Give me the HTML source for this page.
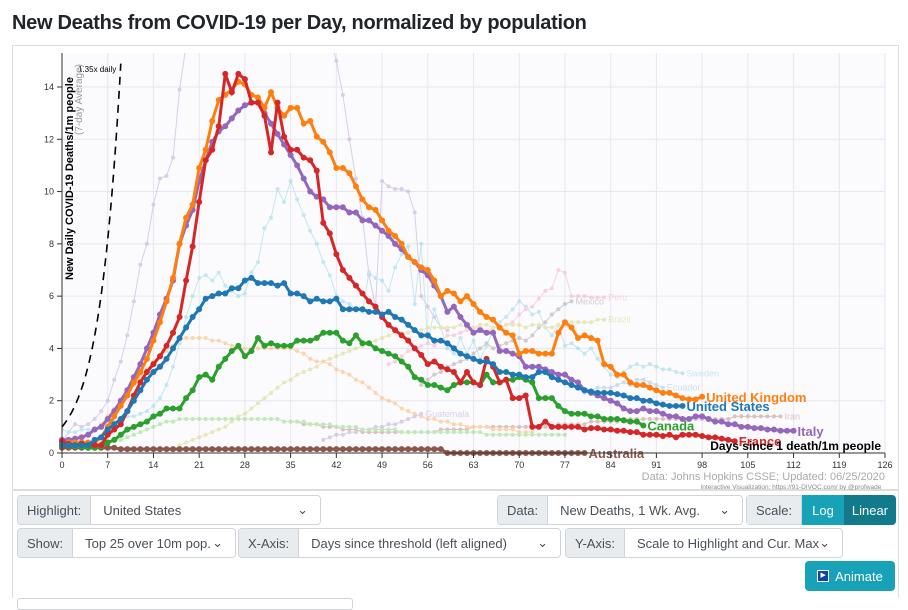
<!DOCTYPE html>
<html><head><meta charset="utf-8">
<style>
body{margin:0;width:908px;height:603px;overflow:hidden;background:#fff;font-family:"Liberation Sans",sans-serif;position:relative}
.t{position:absolute;left:12px;top:12px;font-size:20px;font-weight:bold;color:#212529;letter-spacing:-0.3px}
.grp{position:absolute;height:30px;display:flex;border:1px solid #ced4da;border-radius:4px;overflow:hidden;font-size:13px;color:#495057;box-sizing:border-box}
.grp .lb{background:#e9ecef;padding:0 9px;display:flex;align-items:center;border-right:1px solid #ced4da}
.grp .sel{flex:1;display:flex;align-items:center;justify-content:space-between;padding:0 12px;background:#fff}
.btn{display:flex;align-items:center;justify-content:center;color:#fff;padding:0 8px}
</style></head><body>
<div class="t">New Deaths from COVID-19 per Day, normalized by population</div>
<svg id="chart" width="908" height="603" style="position:absolute;left:0;top:0">
<rect x="12.5" y="45.5" width="886" height="444" fill="#fff" stroke="#ddd"/>
<rect x="62" y="53" width="823" height="400" fill="#fbfbfe"/>
<g id="grid"></g><g id="bg" opacity="0.6"></g><g id="main"></g><g id="axes"></g>
</svg>
<div style="position:absolute;left:12px;top:490px;width:887px;height:108px;border:1px solid #ddd;border-bottom:none;box-sizing:border-box"></div>
<div class="grp" style="left:17px;top:495px;width:304px"><span class="lb">Highlight:</span><span class="sel">United States<span>⌄</span></span></div>
<div class="grp" style="left:497px;top:495px;width:246px"><span class="lb">Data:</span><span class="sel">New Deaths, 1 Wk. Avg.<span>⌄</span></span></div>
<div class="grp" style="left:746px;top:495px;width:150px;border:none"><span class="lb" style="border:1px solid #ced4da">Scale:</span><span class="btn" style="background:#17a2b8;width:26px">Log</span><span class="btn" style="background:#117a8b;flex:1">Linear</span></div>
<div class="grp" style="left:17px;top:528px;width:219px"><span class="lb">Show:</span><span class="sel">Top 25 over 10m pop.<span>⌄</span></span></div>
<div class="grp" style="left:238px;top:528px;width:323px"><span class="lb">X-Axis:</span><span class="sel">Days since threshold (left aligned)<span>⌄</span></span></div>
<div class="grp" style="left:565px;top:528px;width:278px"><span class="lb">Y-Axis:</span><span class="sel">Scale to Highlight and Cur. Max<span>⌄</span></span></div>
<div class="btn" style="position:absolute;left:805px;top:561px;width:90px;height:30px;background:#17a2b8;border-radius:4px;font-size:13px;box-sizing:border-box"><span style="display:inline-block;width:10px;height:10px;background:#0d47a1;border:1px solid #fff;margin-right:6px;font-size:7px;line-height:10px;text-align:center">▶</span>Animate</div>
<div style="position:absolute;left:17px;top:598px;width:334px;height:10px;border:1px solid #ced4da;border-radius:3px"></div>
<script>
const ukValues=[0.4,0.4,0.4,0.4,0.4,0.4,0.6,1.0,1.4,1.8,2.2,2.7,3.1,3.6,4.3,5.0,5.8,6.7,8.0,9.0,9.5,10.9,11.6,12.7,13.5,13.7,13.9,14.2,14.1,13.7,13.6,13.2,13.8,13.2,12.9,13.2,13.2,12.6,12.7,12.1,11.9,11.5,10.9,10.9,10.7,10.2,9.7,9.4,9.3,8.9,8.5,8.3,8.0,7.5,7.3,7.1,7.0,6.6,6.0,6.2,6.1,5.8,6.0,5.7,5.4,5.2,5.1,4.8,4.6,4.5,3.8,3.9,3.9,3.8,3.8,3.8,4.6,5.0,4.8,4.4,4.5,4.4,4.3,3.4,3.3,3.0,3.0,2.7,2.6,2.6,2.5,2.4,2.3,2.3,2.2,2.1,2.05,2.05,2.15];
const itValues=[0.5,0.5,0.55,0.6,0.7,0.9,1.0,1.3,1.6,2.0,2.4,2.9,3.4,4.0,4.6,5.3,5.9,6.6,8.0,8.7,9.3,10.4,11.2,11.9,12.3,12.5,12.8,13.1,13.3,13.4,13.4,13.0,12.6,12.2,11.8,11.4,11.0,10.5,10.0,9.8,9.7,9.4,9.4,9.4,9.2,9.2,8.9,8.9,8.7,8.5,8.3,8.0,7.8,7.5,7.3,7.0,6.8,6.4,6.0,5.4,5.6,5.2,4.9,4.6,4.7,4.6,4.6,3.9,3.9,3.8,3.7,3.3,3.3,3.3,3.2,3.1,3.0,3.0,2.8,2.7,2.4,2.3,2.2,2.1,2.0,1.9,1.7,1.6,1.6,1.7,1.6,1.6,1.5,1.4,1.4,1.3,1.3,1.4,1.4,1.3,1.2,1.2,1.1,1.1,1.0,1.0,0.95,0.95,0.9,0.9,0.85,0.85,0.85];
const frValues=[0.45,0.35,0.3,0.35,0.3,0.3,0.3,0.7,0.9,1.1,1.6,2.2,2.7,3.1,3.4,3.7,4.1,4.6,5.2,6.6,7.9,9.6,11.2,11.6,12.5,14.5,13.8,14.5,14.3,13.4,13.4,12.9,11.5,13.4,12.1,11.6,11.6,11.3,11.2,10.8,8.8,8.4,7.6,7.0,6.7,6.4,6.1,5.8,5.6,5.2,4.9,4.7,4.5,4.3,4.0,3.75,3.4,3.5,3.3,3.2,3.1,2.7,3.1,2.7,2.6,3.6,3.3,2.7,2.8,2.1,2.1,2.2,1.0,1.0,1.2,1.0,1.0,1.0,1.0,1.0,0.9,0.95,0.95,0.9,0.9,0.85,0.85,0.8,0.8,0.7,0.7,0.7,0.65,0.7,0.6,0.7,0.7,0.7,0.65,0.6,0.6,0.55,0.5,0.45];
const usValues=[0.3,0.3,0.3,0.3,0.3,0.5,0.6,0.9,1.1,1.3,1.6,2.0,2.4,2.8,3.1,3.3,3.6,4.0,4.4,4.8,5.2,5.5,5.9,6.0,6.1,6.1,6.3,6.3,6.6,6.7,6.5,6.5,6.5,6.4,6.5,6.1,6.1,6.0,5.8,5.9,5.8,5.8,5.9,5.5,5.5,5.5,5.5,5.4,5.4,5.3,5.4,5.2,5.1,4.9,4.7,4.5,4.5,4.3,4.3,4.2,4.0,3.8,3.7,3.6,3.5,3.5,3.4,3.1,3.1,3.0,3.0,2.9,2.9,3.1,3.1,2.9,2.8,2.7,2.6,2.5,2.4,2.35,2.3,2.3,2.3,2.25,2.2,2.1,2.1,2.0,2.0,1.9,1.85,1.8,1.8,1.8];
const caValues=[0.3,0.3,0.25,0.25,0.2,0.2,0.25,0.4,0.5,0.7,0.9,1.0,1.1,1.2,1.4,1.5,1.7,1.7,1.7,2.1,2.4,2.9,3.0,2.8,3.3,3.6,3.9,4.1,3.7,3.9,4.4,4.1,4.2,4.1,4.1,4.1,4.3,4.3,4.3,4.4,4.6,4.6,4.6,4.3,4.2,4.5,4.2,4.2,4.0,3.9,3.8,3.7,3.5,3.3,2.9,2.8,2.6,2.6,2.5,2.4,2.6,2.7,2.7,2.7,2.6,3.0,2.7,2.7,2.8,2.8,2.9,2.8,2.7,2.1,2.1,2.1,1.8,1.6,1.5,1.5,1.5,1.4,1.4,1.3,1.3,1.3,1.25,1.2,1.2,1.05];
const auValues=[0.2,0.2,0.2,0.2,0.2,0.2,0.2,0.2,0.2,0.15,0.15,0.15,0.15,0.15,0.15,0.15,0.15,0.15,0.15,0.15,0.15,0.15,0.15,0.15,0.15,0.15,0.15,0.15,0.15,0.15,0.15,0.15,0.15,0.15,0.15,0.15,0.15,0.15,0.15,0.15,0.15,0.15,0.15,0.15,0.15,0.15,0.15,0.15,0.15,0.15,0.15,0.15,0.15,0.15,0.15,0.15,0.15,0.15,0.15,0,0,0,0,0,0,0,0,0,0,0,0,0,0,0,0,0,0,0,0,0,0];
const mainNames=["United Kingdom","Italy","France","United States","Canada","Australia"];
const bgNames=["Belgium","Sweden","Peru","Mexico","Brazil","Iran","Ecuador","Spain","Guatemala","Germany"];
const bgStarts=[0,0,50,55,18,35,80,0,40,0];
const bgValues=[
[0.4,0.8,1.1,1.0,1.1,1.3,1.6,2.0,2.8,3.5,4.5,5.8,7.2,8.0,9.5,10.5,10.6,11.3,13.9,15.6,17,18,18,18,18,18,18,18,18,18,18,18,18,18,18,18,18,18,18,18,18,16,15,13.7,12,10.5,9,6.8,5.6,10.4,10.2,10.1,10.1,10.0,9.2,6,5.6,5.2,4.8,4.7],
[0.9,0.8,0.8,0.9,0.9,0.9,1.0,1.1,1.2,1.3,1.4,1.4,1.5,1.6,1.8,2.1,2.6,3.3,4.2,5.2,6.0,6.7,6.8,6.6,6.9,6.4,6.2,6.0,6.1,6.9,7.3,8.6,9.0,10.1,9.6,10.4,9.7,9.1,8.5,8.0,7.3,6.8,6.0,5.8,5.7,5.5,5.4,6.9,6.7,6.6,6.2,7.1,7.6,7.9,5.7,8.0,4.2,5.5,4.8,4.0,3.8,4.4,3.8,4.3,3.6,4.1,4.7,5.0,5.2,5.5,5.8,5.6,5.3,5.4,4.8,4.5,4.9,4.1,4.2,4.0,3.8,4.0,3.6,3.3,3.0,2.9,3.1,3.3,3.4,3.3,3.4,3.3,3.2,3.2,3.1,3.05],
[3.4,3.5,3.7,3.9,4.0,4.1,4.2,4.1,4.3,4.5,4.5,4.6,4.7,4.7,4.9,4.6,4.8,4.8,4.9,5.0,5.3,5.5,5.6,5.9,6.2,6.3,7.0,6.9,6.0,6.0,6.0,5.95,5.95,5.95],
[2.6,2.8,3.0,3.1,3.3,3.4,3.5,3.6,3.8,4.0,4.2,4.0,4.1,4.2,4.3,4.4,4.3,4.5,4.8,5.0,5.3,5.5,5.7,5.8],
[0.3,0.4,0.5,0.6,0.7,0.8,0.9,1.0,1.2,1.4,1.5,1.7,1.9,2.1,2.3,2.5,2.7,2.8,3.0,3.1,3.2,3.3,3.5,3.6,3.7,3.8,3.9,4.0,4.1,4.2,4.3,4.4,4.5,4.6,4.6,4.6,4.7,4.7,4.8,4.8,4.8,4.8,4.8,4.9,4.8,4.8,4.9,4.9,4.8,4.8,4.9,4.9,4.9,4.8,4.9,4.9,4.8,4.8,4.9,4.9,5.0,5.0,5.0,5.0,5.1,5.1],
[1.2,1.2,1.1,1.1,1.1,1.0,1.0,1.0,0.9,0.9,0.9,0.8,0.8,0.8,0.8,0.8,0.8,0.8,0.8,0.8,0.8,0.8,0.8,0.9,0.9,0.9,0.9,0.9,1.0,1.0,1.0,1.0,1.0,1.0,1.0,1.0,1.0,1.0,1.0,1.0,1.0,1.1,1.1,1.1,1.1,1.1,1.2,1.2,1.2,1.2,1.2,1.3,1.3,1.3,1.3,1.3,1.3,1.3,1.3,1.3,1.3,1.3,1.3,1.3,1.3,1.3,1.3,1.3,1.4,1.4,1.4,1.4,1.4,1.4,1.4,1.4],
[2.3,2.4,2.5,2.5,2.5,2.6,2.7,2.6,2.8,2.8,2.7,2.6,2.5],
[0.3,0.3,0.4,0.5,0.7,0.9,1.1,1.4,1.7,2.0,2.3,2.6,2.9,3.2,3.5,3.7,3.9,4.1,4.3,4.4,4.4,4.4,4.4,4.3,4.3,4.2,4.1,4.0,4.0,4.0,4.0,4.0,4.0,4.0,4.0,4.0,3.9,3.8,3.6,3.5,3.5,3.4,3.2,3.1,3.0,2.8,2.7,2.5,2.3,2.1,2.0,1.9,1.7,1.6,1.5,1.4,1.3,1.3,1.2,1.2,1.1,1.1,1.0,1.0,1.0,1.0,0.9,0.9,0.9,0.9,0.8,0.8,0.8],
[0.5,0.6,0.7,0.7,0.8,0.8,0.9,0.9,1.0,1.0,1.1,1.1,1.2,1.3,1.4,1.5],
[0.2,0.2,0.2,0.3,0.3,0.3,0.4,0.4,0.5,0.5,0.6,0.7,0.8,0.9,1.0,1.1,1.2,1.2,1.3,1.3,1.3,1.3,1.3,1.3,1.3,1.3,1.3,1.3,1.3,1.3,1.3,1.3,1.3,1.3,1.2,1.2,1.2,1.2,1.1,1.1,1.1,1.1,1.0,1.0,1.0,1.0,0.9,0.9,0.9,0.9,0.9,0.9,0.8,0.8,0.8,0.8,0.8,0.8,0.8,0.8,0.8,0.8,0.8,0.8,0.8,0.7,0.7,0.7,0.7,0.7,0.7,0.7,0.7,0.7,0.7,0.7,0.7,0.7]
];
const bgColors=["#c5b0d5","#9edae5","#f7b6d2","#b0b0b0","#dbdb8d","#c49c94","#aec7e8","#ffbb78","#c5b0d5","#98df8a"];
const bgLabeled=[false,true,true,true,true,true,true,false,true,false];
const xTicks=[0,7,14,21,28,35,42,49,56,63,70,77,84,91,98,105,112,119,126];
const yTicks=[0,2,4,6,8,10,12,14];
const X0=62,X1=885,Y0=453,YMAX=15.3,YTOP=53;
const xs=d=>X0+d*(X1-X0)/126;
const ys=v=>Y0-v*(Y0-YTOP)/YMAX;
const NS="http://www.w3.org/2000/svg";
function mk(tag,attrs,parent){const e=document.createElementNS(NS,tag);for(const k in attrs)e.setAttribute(k,attrs[k]);parent.appendChild(e);return e;}
const grid=document.getElementById('grid'),bg=document.getElementById('bg'),main=document.getElementById('main'),axes=document.getElementById('axes');
const defs=mk('clipPath',{id:'clip'},document.getElementById('chart'));mk('rect',{x:X0,y:YTOP,width:X1-X0,height:Y0-YTOP},defs);
bg.setAttribute('clip-path','url(#clip)');
xTicks.forEach(t=>{const l=mk('line',{x1:xs(t),x2:xs(t),y1:YTOP,y2:Y0,stroke:'#e6e6ef'},grid);


mk('line',{x1:xs(t),x2:xs(t),y1:Y0,y2:Y0+5,stroke:'#333'},axes);
const tx=mk('text',{x:xs(t),y:Y0+15,'text-anchor':'middle','font-size':9,fill:'#333'},axes);tx.textContent=t;

});
yTicks.forEach(t=>{const l=mk('line',{x1:X0,x2:X1,y1:ys(t),y2:ys(t),stroke:'#e6e6ef'},grid);


mk('line',{x1:X0-5,x2:X0,y1:ys(t),y2:ys(t),stroke:'#333'},axes);
const tx=mk('text',{x:X0-8,y:ys(t)+3,'text-anchor':'end','font-size':9,fill:'#333'},axes);tx.textContent=t;

});
mk('line',{x1:X0,x2:X0,y1:YTOP,y2:Y0,stroke:'#333'},axes);
mk('line',{x1:X0,x2:X1,y1:Y0,y2:Y0,stroke:'#333'},axes);
let pts=[];for(let d=0;d<=9;d+=0.1){const v=Math.pow(1.35,d);if(ys(v)<YTOP-10)break;pts.push(xs(d)+','+ys(v));}
const ref=mk('polyline',{points:pts.join(' '),fill:'none',stroke:'#000','stroke-width':1.6,'stroke-dasharray':'8,6'},axes);


const rl=mk('text',{x:78,y:72,'font-size':8,fill:'#000'},axes);rl.textContent='1.35x daily';


function series(vals,start,color,r,w,parent,name){
 const p=vals.map((v,i)=>xs(start+i)+','+ys(v)).join(' ');
 const pl=mk('polyline',{points:p,fill:'none',stroke:color,'stroke-width':w},parent);
 
 
 vals.forEach((v,i)=>{mk('circle',{cx:xs(start+i),cy:ys(v),r:r,fill:color},parent);});
}
bgValues.forEach((vals,k)=>{series(vals,bgStarts[k],bgColors[k],2,1,bg,bgNames[k].toLowerCase());
 if(bgLabeled[k]){const i=vals.length-1;const t=mk('text',{x:xs(bgStarts[k]+i)+4,y:ys(vals[i])+3,'font-size':9,fill:bgColors[k]},bg);t.textContent=bgNames[k];
 
 }});
const mainVals=[ukValues,itValues,frValues,usValues,caValues,auValues];
const mainColors=["#ff7f0e","#9467bd","#d62728","#1f77b4","#2ca02c","#8c564b"];
const order=[5,4,1,0,2,3];
order.forEach(k=>series(mainVals[k],0,mainColors[k],3,3,main,mainNames[k].toLowerCase().replace(/ /g,'-')));
mainNames.forEach((n,k)=>{const v=mainVals[k];const i=v.length-1;const t=mk('text',{x:xs(i)+4,y:ys(v[i])+5,'font-size':13,'font-weight':'bold',fill:mainColors[k]},main);t.textContent=n;

});
const xt=mk('text',{x:881,y:450,'text-anchor':'end','font-size':12,'font-weight':'bold',fill:'#000'},axes);xt.textContent='Days since 1 death/1m people';


const yt=mk('text',{x:0,y:0,'font-size':11,'font-weight':'bold',fill:'#000',transform:'translate(73,280) rotate(-90)'},axes);yt.textContent='New Daily COVID-19 Deaths/1m people';


const yt2=mk('text',{x:0,y:0,'font-size':10,fill:'#999',transform:'translate(82,135) rotate(-90)'},axes);yt2.textContent='(7-day Average)';


const src=mk('text',{x:885,y:480,'text-anchor':'end','font-size':11,fill:'#aaa'},axes);src.textContent='Data: Johns Hopkins CSSE; Updated: 06/25/2020';


const cr=mk('text',{x:885,y:489,'text-anchor':'end','font-size':6.5,fill:'#888'},axes);cr.textContent='Interactive Visualization: https://91-DIVOC.com/ by @profwade_';


</script>
</body></html>
